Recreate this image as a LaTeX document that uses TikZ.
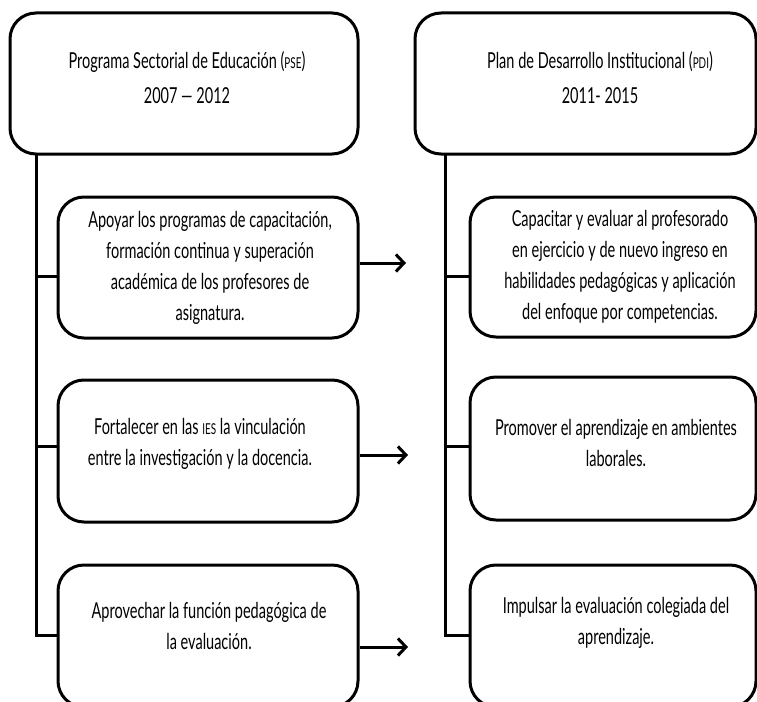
\documentclass[tikz,border=0pt]{standalone}
\usepackage{fontspec}
\setmainfont[FakeStretch=0.66]{Lato}
\usetikzlibrary{arrows.meta}
\newcommand{\smcaps}[1]{{\fontsize{15pt}{15pt}\selectfont #1}}
\begin{document}
\begin{tikzpicture}[x=1pt,y=-1pt,
  box/.style={draw,line width=3pt,rounded corners=26pt,inner sep=0pt},
  txt/.style={align=center,font=\fontsize{22pt}{31pt}\selectfont,inner sep=0pt},
  htxt/.style={align=center,font=\fontsize{22pt}{35pt}\selectfont,inner sep=0pt},
  link/.style={line width=3pt},
  arr/.style={line width=3pt,-{Straight Barb[length=8pt,width=17pt]}}]
\clip (0,0) rectangle (757,701);
% boxes
\node[box,minimum width=348pt,minimum height=141pt] (LH) at (184,83.5) {};
\node[box,minimum width=341pt,minimum height=141pt] (RH) at (585.5,83.5) {};
\node[box,minimum width=300pt,minimum height=141pt] (L1) at (208,267.5) {};
\node[box,minimum width=286pt,minimum height=140pt] (R1) at (613,267) {};
\node[box,minimum width=300pt,minimum height=142pt] (L2) at (208,451) {};
\node[box,minimum width=286pt,minimum height=143pt] (R2) at (613,448.5) {};
\node[box,minimum width=300pt,minimum height=142pt] (L3) at (208,636) {};
\node[box,minimum width=286pt,minimum height=142pt] (R3) at (613,636) {};
% texts
\node[htxt] (LHt) at (187,77.5) {Programa Sectorial de Educación (\smcaps{PSE})\\2007 — 2012};
\node[htxt] (RHt) at (600,77.5) {Plan de Desarrollo Institucional (\smcaps{PDI})\\2011- 2015};
\node[txt] (L1t) at (210,268) {Apoyar los programas de capacitación,\\formación continua y superación\\académica de los profesores de\\asignatura.};
\node[txt] (R1t) at (620,267) {Capacitar y evaluar al profesorado\\en ejercicio y de nuevo ingreso en\\habilidades pedagógicas y aplicación\\del enfoque por competencias.};
\node[txt] (L2t) at (200,444) {Fortalecer en las \smcaps{IES} la vinculación\\entre la investigación y la docencia.};
\node[txt] (R2t) at (616,443) {Promover el aprendizaje en ambientes\\laborales.};
\node[txt] (L3t) at (209,626) {Aprovechar la función pedagógica de\\la evaluación.};
\node[txt] (R3t) at (616,623) {Impulsar la evaluación colegiada del\\aprendizaje.};
% trunks
\coordinate (lt) at (36,154);
\coordinate (lb1) at (36,276);
\coordinate (lb2) at (36,446);
\coordinate (lb3) at (36,635);
\coordinate (rt) at (445,154);
\coordinate (rb1) at (445,276);
\coordinate (rb2) at (445,446);
\coordinate (rb3) at (445,635);
\draw[link] (lt) -- (lb3) -- (lb3 -| L3.west);
\draw[link] (lb1) -- (lb1 -| L1.west);
\draw[link] (lb2) -- (lb2 -| L2.west);
\draw[link] (rt) -- (rb3) -- (rb3 -| R3.west);
\draw[link] (rb1) -- (rb1 -| R1.west);
\draw[link] (rb2) -- (rb2 -| R2.west);
% arrows
\coordinate (a1) at (406,263);
\coordinate (a2) at (408,455);
\coordinate (a3) at (408,647);
\draw[arr] (a1 -| L1.east) -- (a1);
\draw[arr] (a2 -| L2.east) -- (a2);
\draw[arr] (a3 -| L3.east) -- (a3);
\end{tikzpicture}
\end{document}
